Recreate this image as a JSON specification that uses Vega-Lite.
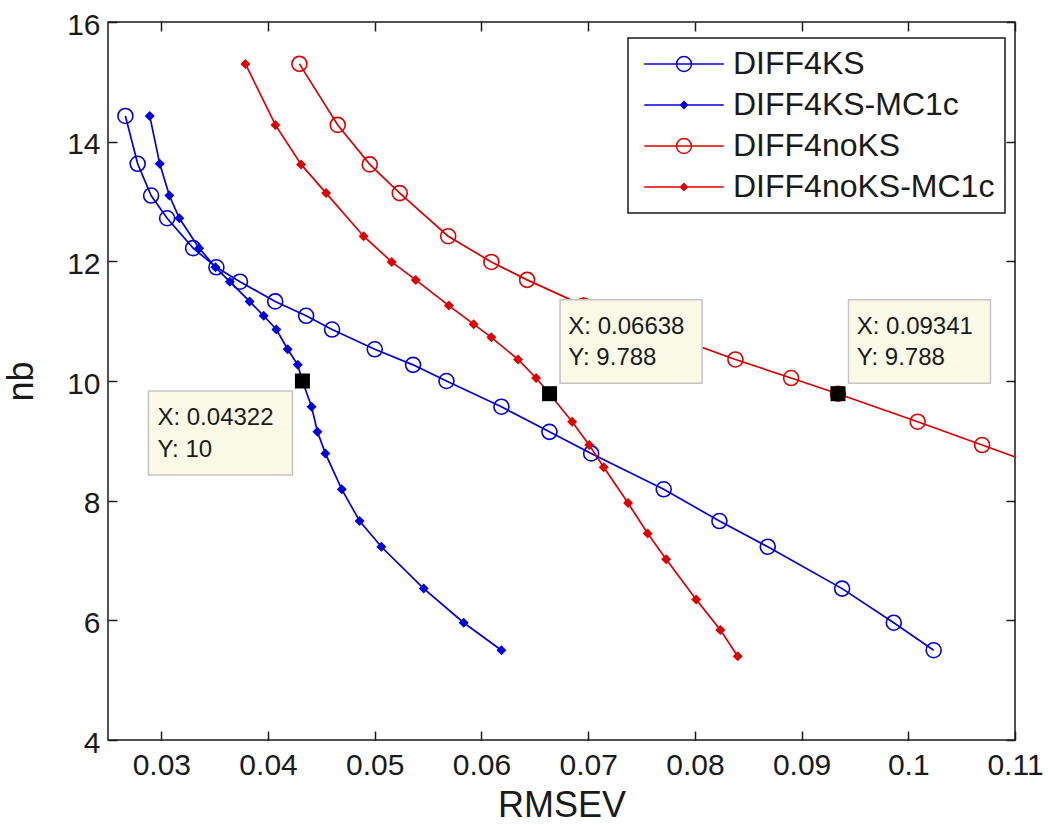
{
  "$schema": "https://vega.github.io/schema/vega-lite/v6.json",
  "width": 907,
  "height": 718,
  "autosize": {"type": "none"},
  "padding": {"left": 108, "top": 22, "right": 33, "bottom": 85},
  "background": "white",
  "config": {
    "view": {"stroke": "#1a1a1a", "strokeWidth": 1.5},
    "font": "Liberation Sans",
    "axis": {
      "grid": false, "domain": false, "tickColor": "#1a1a1a", "tickSize": -9, "tickWidth": 1.5,
      "labelFont": "Liberation Sans", "labelFontSize": 30, "labelColor": "#1a1a1a",
      "titleFont": "Liberation Sans", "titleFontSize": 36, "titleFontWeight": "normal", "titleColor": "#1a1a1a",
      "labelOverlap": false, "labelFlush": false
    }
  },
  "datasets": {
    "curves": [
      {"series": "DIFF4KS", "x": 0.02663, "y": 14.43},
      {"series": "DIFF4KS", "x": 0.02778, "y": 13.63},
      {"series": "DIFF4KS", "x": 0.02904, "y": 13.10},
      {"series": "DIFF4KS", "x": 0.03054, "y": 12.72},
      {"series": "DIFF4KS", "x": 0.03298, "y": 12.22},
      {"series": "DIFF4KS", "x": 0.03516, "y": 11.90},
      {"series": "DIFF4KS", "x": 0.03737, "y": 11.66},
      {"series": "DIFF4KS", "x": 0.04067, "y": 11.33},
      {"series": "DIFF4KS", "x": 0.04357, "y": 11.09},
      {"series": "DIFF4KS", "x": 0.04600, "y": 10.86},
      {"series": "DIFF4KS", "x": 0.05000, "y": 10.53},
      {"series": "DIFF4KS", "x": 0.05359, "y": 10.27},
      {"series": "DIFF4KS", "x": 0.05672, "y": 10.00},
      {"series": "DIFF4KS", "x": 0.06187, "y": 9.57},
      {"series": "DIFF4KS", "x": 0.06637, "y": 9.15},
      {"series": "DIFF4KS", "x": 0.07028, "y": 8.79},
      {"series": "DIFF4KS", "x": 0.07708, "y": 8.19},
      {"series": "DIFF4KS", "x": 0.08230, "y": 7.66},
      {"series": "DIFF4KS", "x": 0.08683, "y": 7.23},
      {"series": "DIFF4KS", "x": 0.09380, "y": 6.53},
      {"series": "DIFF4KS", "x": 0.09864, "y": 5.96},
      {"series": "DIFF4KS", "x": 0.10238, "y": 5.50},
      {"series": "DIFF4KS-MC1c", "x": 0.02891, "y": 14.43},
      {"series": "DIFF4KS-MC1c", "x": 0.02985, "y": 13.63},
      {"series": "DIFF4KS-MC1c", "x": 0.03075, "y": 13.10},
      {"series": "DIFF4KS-MC1c", "x": 0.03169, "y": 12.72},
      {"series": "DIFF4KS-MC1c", "x": 0.03354, "y": 12.22},
      {"series": "DIFF4KS-MC1c", "x": 0.03507, "y": 11.90},
      {"series": "DIFF4KS-MC1c", "x": 0.03642, "y": 11.66},
      {"series": "DIFF4KS-MC1c", "x": 0.03827, "y": 11.33},
      {"series": "DIFF4KS-MC1c", "x": 0.03959, "y": 11.09},
      {"series": "DIFF4KS-MC1c", "x": 0.04078, "y": 10.86},
      {"series": "DIFF4KS-MC1c", "x": 0.04184, "y": 10.53},
      {"series": "DIFF4KS-MC1c", "x": 0.04278, "y": 10.27},
      {"series": "DIFF4KS-MC1c", "x": 0.04322, "y": 10.00},
      {"series": "DIFF4KS-MC1c", "x": 0.04408, "y": 9.57},
      {"series": "DIFF4KS-MC1c", "x": 0.04463, "y": 9.15},
      {"series": "DIFF4KS-MC1c", "x": 0.04537, "y": 8.79},
      {"series": "DIFF4KS-MC1c", "x": 0.04691, "y": 8.19},
      {"series": "DIFF4KS-MC1c", "x": 0.04858, "y": 7.66},
      {"series": "DIFF4KS-MC1c", "x": 0.05062, "y": 7.23},
      {"series": "DIFF4KS-MC1c", "x": 0.05459, "y": 6.53},
      {"series": "DIFF4KS-MC1c", "x": 0.05834, "y": 5.96},
      {"series": "DIFF4KS-MC1c", "x": 0.06187, "y": 5.50},
      {"series": "DIFF4noKS", "x": 0.04294, "y": 15.30},
      {"series": "DIFF4noKS", "x": 0.04653, "y": 14.28},
      {"series": "DIFF4noKS", "x": 0.04953, "y": 13.62},
      {"series": "DIFF4noKS", "x": 0.05234, "y": 13.14},
      {"series": "DIFF4noKS", "x": 0.05688, "y": 12.42},
      {"series": "DIFF4noKS", "x": 0.06093, "y": 11.99},
      {"series": "DIFF4noKS", "x": 0.06428, "y": 11.69},
      {"series": "DIFF4noKS", "x": 0.06958, "y": 11.26},
      {"series": "DIFF4noKS", "x": 0.07450, "y": 10.95},
      {"series": "DIFF4noKS", "x": 0.07810, "y": 10.73},
      {"series": "DIFF4noKS", "x": 0.08380, "y": 10.36},
      {"series": "DIFF4noKS", "x": 0.08902, "y": 10.05},
      {"series": "DIFF4noKS", "x": 0.09341, "y": 9.788},
      {"series": "DIFF4noKS", "x": 0.10088, "y": 9.32},
      {"series": "DIFF4noKS", "x": 0.10692, "y": 8.93},
      {"series": "DIFF4noKS", "x": 0.11265, "y": 8.56},
      {"series": "DIFF4noKS-MC1c", "x": 0.03788, "y": 15.30},
      {"series": "DIFF4noKS-MC1c", "x": 0.04069, "y": 14.28},
      {"series": "DIFF4noKS-MC1c", "x": 0.04310, "y": 13.62},
      {"series": "DIFF4noKS-MC1c", "x": 0.04544, "y": 13.14},
      {"series": "DIFF4noKS-MC1c", "x": 0.04896, "y": 12.42},
      {"series": "DIFF4noKS-MC1c", "x": 0.05159, "y": 11.99},
      {"series": "DIFF4noKS-MC1c", "x": 0.05384, "y": 11.69},
      {"series": "DIFF4noKS-MC1c", "x": 0.05695, "y": 11.26},
      {"series": "DIFF4noKS-MC1c", "x": 0.05927, "y": 10.95},
      {"series": "DIFF4noKS-MC1c", "x": 0.06093, "y": 10.73},
      {"series": "DIFF4noKS-MC1c", "x": 0.06343, "y": 10.36},
      {"series": "DIFF4noKS-MC1c", "x": 0.06512, "y": 10.05},
      {"series": "DIFF4noKS-MC1c", "x": 0.06638, "y": 9.788},
      {"series": "DIFF4noKS-MC1c", "x": 0.06850, "y": 9.32},
      {"series": "DIFF4noKS-MC1c", "x": 0.07010, "y": 8.93},
      {"series": "DIFF4noKS-MC1c", "x": 0.07146, "y": 8.56},
      {"series": "DIFF4noKS-MC1c", "x": 0.07374, "y": 7.96},
      {"series": "DIFF4noKS-MC1c", "x": 0.07558, "y": 7.45},
      {"series": "DIFF4noKS-MC1c", "x": 0.07731, "y": 7.02},
      {"series": "DIFF4noKS-MC1c", "x": 0.08012, "y": 6.35},
      {"series": "DIFF4noKS-MC1c", "x": 0.08239, "y": 5.84},
      {"series": "DIFF4noKS-MC1c", "x": 0.08402, "y": 5.40}
    ],
    "tips": [
      {"series": "DIFF4KS-MC1c", "x": 0.04322, "y": 10, "xl": "X: 0.04322", "yl": "Y: 10"},
      {"series": "DIFF4noKS-MC1c", "x": 0.06638, "y": 9.788, "xl": "X: 0.06638", "yl": "Y: 9.788"},
      {"series": "DIFF4noKS", "x": 0.09341, "y": 9.788, "xl": "X: 0.09341", "yl": "Y: 9.788"}
    ]
  },
  "layer": [
    {
      "data": {"name": "curves"},
      "mark": {"type": "line", "strokeWidth": 1.7, "clip": true},
      "encoding": {
        "x": {"field": "x", "type": "quantitative",
          "scale": {"domain": [0.025, 0.11], "nice": false, "zero": false},
          "axis": {"orient": "bottom", "values": [0.03, 0.04, 0.05, 0.06, 0.07, 0.08, 0.09, 0.1, 0.11], "format": "~g", "title": "RMSEV", "labelPadding": 19, "titlePadding": 8}},
        "y": {"field": "y", "type": "quantitative",
          "scale": {"domain": [4, 16], "nice": false, "zero": false},
          "axis": {"orient": "left", "values": [4, 6, 8, 10, 12, 14, 16], "title": "nb", "labelPadding": 17, "titlePadding": 26, "labelOffset": 3}},
        "color": {"field": "series", "type": "nominal",
          "scale": {"domain": ["DIFF4KS", "DIFF4KS-MC1c", "DIFF4noKS", "DIFF4noKS-MC1c"], "range": ["#0000dd", "#0000dd", "#dd0000", "#dd0000"]},
          "legend": {
            "orient": "none", "legendX": 520, "legendY": 16, "title": null,
            "strokeColor": "#1a1a1a", "fillColor": "#ffffff", "padding": 10,
            "labelFont": "Liberation Sans", "labelFontSize": 32, "labelColor": "#1a1a1a", "labelLimit": 400,
            "symbolSize": 225, "symbolStrokeWidth": 1.5, "symbolOffset": 30, "labelOffset": 33, "rowPadding": 9,
            "encode": {
              "legend": {"update": {"strokeWidth": {"value": 1.5}}},
              "symbols": {"update": {
                "shape": {"signal": "indexof(datum.value, 'MC1c') >= 0 ? 'M-5.3,0H5.3M0,-0.45L0.45,0L0,0.45L-0.45,0Z' : 'M-5.3,0H5.3M1,0A1,1 0 1,1 -1,0A1,1 0 1,1 1,0'"},
                "fill": {"signal": "indexof(datum.value, 'noKS') >= 0 ? '#dd0000' : '#0000dd'"},
                "fillOpacity": {"signal": "indexof(datum.value, 'MC1c') >= 0 ? 1 : 0"},
                "stroke": {"signal": "indexof(datum.value, 'noKS') >= 0 ? '#dd0000' : '#0000dd'"},
                "strokeWidth": {"value": 1.5},
                "opacity": {"value": 1}
              }}
            }
          }}
      }
    },
    {
      "data": {"name": "curves"},
      "transform": [{"filter": "indexof(datum.series, 'MC1c') < 0"}],
      "mark": {"type": "point", "shape": "circle", "filled": false, "size": 225, "strokeWidth": 1.6, "clip": true, "opacity": 1},
      "encoding": {
        "x": {"field": "x", "type": "quantitative",
          "axis": {"orient": "top", "values": [0.03, 0.04, 0.05, 0.06, 0.07, 0.08, 0.09, 0.1, 0.11], "labels": false, "title": null}},
        "y": {"field": "y", "type": "quantitative",
          "axis": {"orient": "right", "values": [4, 6, 8, 10, 12, 14, 16], "labels": false, "title": null}},
        "color": {"field": "series", "type": "nominal"}
      }
    },
    {
      "data": {"name": "curves"},
      "transform": [{"filter": "indexof(datum.series, 'MC1c') >= 0"}],
      "mark": {"type": "point", "shape": "diamond", "filled": true, "size": 100, "clip": true, "opacity": 1},
      "encoding": {
        "x": {"field": "x", "type": "quantitative", "axis": null},
        "y": {"field": "y", "type": "quantitative", "axis": null},
        "color": {"field": "series", "type": "nominal"}
      }
    },
    {
      "data": {"name": "tips"},
      "transform": [{"filter": "datum.series == 'DIFF4KS-MC1c'"}],
      "mark": {"type": "rect", "fill": "#fafae6", "stroke": "#c4c4c4", "strokeWidth": 1.5, "xOffset": -154, "x2Offset": -10, "yOffset": 10, "y2Offset": 94},
      "encoding": {
        "x": {"field": "x", "type": "quantitative", "axis": null},
        "x2": {"field": "x"},
        "y": {"field": "y", "type": "quantitative", "axis": null},
        "y2": {"field": "y"}
      }
    },
    {
      "data": {"name": "tips"},
      "transform": [{"filter": "datum.series != 'DIFF4KS-MC1c'"}],
      "mark": {"type": "rect", "fill": "#fafae6", "stroke": "#c4c4c4", "strokeWidth": 1.5, "xOffset": 10.5, "x2Offset": 152.5, "yOffset": -94, "y2Offset": -10.5},
      "encoding": {
        "x": {"field": "x", "type": "quantitative", "axis": null},
        "x2": {"field": "x"},
        "y": {"field": "y", "type": "quantitative", "axis": null},
        "y2": {"field": "y"}
      }
    },
    {
      "data": {"name": "tips"},
      "transform": [{"filter": "datum.series == 'DIFF4KS-MC1c'"}],
      "mark": {"type": "text", "align": "left", "baseline": "alphabetic", "dx": -145, "dy": 44, "fontSize": 24, "font": "Liberation Sans", "color": "#1a1a1a"},
      "encoding": {
        "x": {"field": "x", "type": "quantitative", "axis": null},
        "y": {"field": "y", "type": "quantitative", "axis": null},
        "text": {"field": "xl"}
      }
    },
    {
      "data": {"name": "tips"},
      "transform": [{"filter": "datum.series == 'DIFF4KS-MC1c'"}],
      "mark": {"type": "text", "align": "left", "baseline": "alphabetic", "dx": -145, "dy": 75.5, "fontSize": 24, "font": "Liberation Sans", "color": "#1a1a1a"},
      "encoding": {
        "x": {"field": "x", "type": "quantitative", "axis": null},
        "y": {"field": "y", "type": "quantitative", "axis": null},
        "text": {"field": "yl"}
      }
    },
    {
      "data": {"name": "tips"},
      "transform": [{"filter": "datum.series != 'DIFF4KS-MC1c'"}],
      "mark": {"type": "text", "align": "left", "baseline": "alphabetic", "dx": 18.8, "dy": -60, "fontSize": 24, "font": "Liberation Sans", "color": "#1a1a1a"},
      "encoding": {
        "x": {"field": "x", "type": "quantitative", "axis": null},
        "y": {"field": "y", "type": "quantitative", "axis": null},
        "text": {"field": "xl"}
      }
    },
    {
      "data": {"name": "tips"},
      "transform": [{"filter": "datum.series != 'DIFF4KS-MC1c'"}],
      "mark": {"type": "text", "align": "left", "baseline": "alphabetic", "dx": 18.8, "dy": -28.5, "fontSize": 24, "font": "Liberation Sans", "color": "#1a1a1a"},
      "encoding": {
        "x": {"field": "x", "type": "quantitative", "axis": null},
        "y": {"field": "y", "type": "quantitative", "axis": null},
        "text": {"field": "yl"}
      }
    },
    {
      "data": {"name": "tips"},
      "mark": {"type": "point", "shape": "square", "filled": true, "size": 225, "color": "#000000", "opacity": 1},
      "encoding": {
        "x": {"field": "x", "type": "quantitative", "axis": null},
        "y": {"field": "y", "type": "quantitative", "axis": null}
      }
    }
  ],
  "resolve": {"axis": {"x": "independent", "y": "independent"}}
}
